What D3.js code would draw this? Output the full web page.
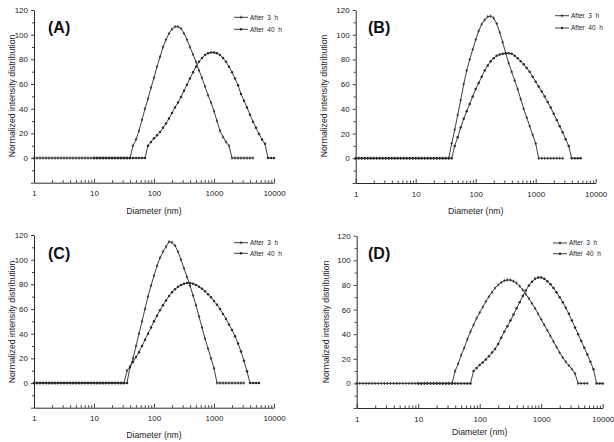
<!DOCTYPE html>
<html>
<head>
<meta charset="utf-8">
<script src="https://cdn.jsdelivr.net/npm/d3@7"></script>
<style>
  html, body { margin: 0; padding: 0; background: #fff; }
  svg { display: block; font-family: "Liberation Sans", Arial, sans-serif; }
</style>
</head>
<body>
<script>
// ---------- DATA ----------
const diameters = [1,1.122,1.259,1.413,1.585,1.778,1.995,2.239,2.512,2.818,
  3.162,3.548,3.981,4.467,5.012,5.623,6.310,7.079,7.943,8.913,
  10,11.22,12.59,14.13,15.85,17.78,19.95,22.39,25.12,28.18,
  31.62,35.48,39.81,44.67,50.12,56.23,63.10,70.79,79.43,89.13,
  100,112.2,125.9,141.3,158.5,177.8,199.5,223.9,251.2,281.8,
  316.2,354.8,398.1,446.7,501.2,562.3,631.0,707.9,794.3,891.3,
  1000,1122,1259,1413,1585,1778,1995,2239,2512,2818,
  3162,3548,3981,4467,5012,5623,6310,7079,7943,8913,10000];

const seriesNames = ["After  3  h", "After  40  h"];
const panelLabels = ["(A)", "(B)", "(C)", "(D)"];
const xTicks = [1, 10, 100, 1000, 10000];
const yTicks = [-20, 0, 20, 40, 60, 80, 100, 120];
const xTitle = "Diameter (nm)";
const yTitle = "Normalized intensity distribution";

// each series: first bin index + values per bin
const a3hStart = 0;
const a3h = [0,0,0,0,0,0,0,0,0,0, 0,0,0,0,0,0,0,0,0,0, 0,0,0,0,0,0,0,0,0,0, 0,0,0,
  10,15,22,31,40,48,57,65,74,82, 90,96,101,104.5,106.5,106.5,105,101,96,90,
  84,78,71,65,58,51,45,38,30,22, 17,13,10,
  0,0,0,0,0,0,0,0];
const a40hStart = 20;
const a40h = [0,0,0,0,0,0,0,0,0,0, 0,0,0,0,0,0,0,0,
  10,13,16,18.5,21,24.5,28,32,36.5,41, 45,49.5,54.5,59.5,64.5,69.5,74,78,81,83.5,
  85,85.5,85.5,85,83.5,81,78,74,69.5,64.5, 59,52,46.5,41,35,29.5,24.5,19.5,15,11.5,
  0,0,0];

const b3hStart = 0;
const b3h = [0,0,0,0,0,0,0,0,0,0, 0,0,0,0,0,0,0,0,0,0, 0,0,0,0,0,0,0,0,0,0, 0,0,
  12,23,35,47,60,71,80,88,96,103, 108.5,112,114.5,115,113.5,109,102,94,85,77,
  70,63,56,48,40,33,26,19,12,
  0,0,0,0,0,0,0,0,0];
const b40hStart = 0;
const b40h = [0,0,0,0,0,0,0,0,0,0, 0,0,0,0,0,0,0,0,0,0, 0,0,0,0,0,0,0,0,0,0, 0,0,0,
  10,17,25,32,38,44,50,56,61,66, 71,75,78.5,81,83,84,84.5,85,85,84.5,
  83,81,78.5,76,73,70,66,62,58,54, 50,45.5,41,36,31,26,21,15.5,10,
  0,0,0,0];

const c3hStart = 0;
const c3h = [0,0,0,0,0,0,0,0,0,0, 0,0,0,0,0,0,0,0,0,0, 0,0,0,0,0,0,0,0,0,0, 0,
  10,13,20,30,40,50,60,70,79,87, 95,101.5,106.5,110.5,114.5,114,111.5,106.5,100,93,
  86,79,71,63,54,45,36,28,20,12,
  0,0,0,0,0,0,0,0,0,0];
const c40hStart = 0;
const c40h = [0,0,0,0,0,0,0,0,0,0, 0,0,0,0,0,0,0,0,0,0, 0,0,0,0,0,0,0,0,0,0, 0,0,
  13,17,21,25,30,35,40,45,50,54.5, 59,63,67,70.5,73.5,76,78,79.5,80.5,81,
  81,80.5,79.5,78,76.5,74.5,72,69.5,66.5,63.5, 60,56,52,47.5,43,38,32,25.5,18,9.5,
  0,0,0,0];

const d3hStart = 0;
const d3h = [0,0,0,0,0,0,0,0,0,0, 0,0,0,0,0,0,0,0,0,0, 0,0,0,0,0,0,0,0,0,0, 0,0,
  10,16,23,29,36,42,47.5,53,57.5,62, 66.5,70.5,74,77.5,80,82,83.5,84,84,83,
  81.5,79,76,72.5,69,65,61,56.5,52,47.5, 43,38.5,34,29.5,25,21,17.5,14.5,11.5,8,
  0,0,0,0];
const d40hStart = 20;
const d40h = [0,0,0,0,0,0,0,0,0,0, 0,0,0,0,0,0,0,0,
  10,12.5,15,17,19.5,22,25,28,32,37, 42,46.5,51,56,61,66,71,75.5,79.5,82.5,
  85,86,86,85,83,80.5,77.5,74,70,66, 61.5,56.5,51,45.5,40,34.5,29,23.5,17.5,11.5,
  0,0,0];

// ---------- LAYOUT ----------
const panels = [
  {label: panelLabels[0], s: [[a3hStart, a3h], [a40hStart, a40h]],
   x0: 34, x1: 274, yT: 10, yB: 182.7, labX: 48, labY: 33, ytX: 12, ytY: 96, xtY: 214, legX: 234, legY: [17.3, 29.3]},
  {label: panelLabels[1], s: [[b3hStart, b3h], [b40hStart, b40h]],
   x0: 355.7, x1: 595.7, yT: 10, yB: 183, labX: 368, labY: 33, ytX: 324, ytY: 96, xtY: 214, legX: 555, legY: [15.7, 28]},
  {label: panelLabels[2], s: [[c3hStart, c3h], [c40hStart, c40h]],
   x0: 34, x1: 274, yT: 235, yB: 407.7, labX: 48, labY: 259, ytX: 12, ytY: 322, xtY: 438, legX: 234, legY: [242.7, 253.3]},
  {label: panelLabels[3], s: [[d3hStart, d3h], [d40hStart, d40h]],
   x0: 356.7, x1: 602.7, yT: 235.7, yB: 408, labX: 368, labY: 259, ytX: 325.5, ytY: 322, xtY: 435, legX: 553, legY: [243, 253.7]}
];

const INK = "#2a2a2a";
const svg = d3.select("body").append("svg").attr("width", 614).attr("height", 442);
svg.append("rect").attr("width", 614).attr("height", 442).attr("fill", "#fff");

const minorX = [];
[1, 10, 100, 1000].forEach(dec => { for (let m = 2; m <= 9; m++) minorX.push(dec * m); });
const minorY = [-10, 10, 30, 50, 70, 90, 110];

function drawMarker(g, kind, cx, cy) {
  if (kind === 0) {
    g.append("path").attr("d", `M${cx},${cy - 1.6}V${cy + 1.6}M${cx - 1.2},${cy}H${cx + 1.2}`)
      .attr("stroke", INK).attr("stroke-width", 0.8).attr("fill", "none");
  } else {
    g.append("circle").attr("cx", cx).attr("cy", cy).attr("r", 1.25).attr("fill", INK);
  }
}

panels.forEach(p => {
  const x = d3.scaleLog().domain([1, 10000]).range([p.x0, p.x1]);
  const y = d3.scaleLinear().domain([-20, 120]).range([p.yB, p.yT]);
  const g = svg.append("g");

  // x axis (ticks pointing up)
  const gx = g.append("g").attr("transform", `translate(0,${p.yB})`)
    .call(d3.axisBottom(x).tickValues(xTicks).tickFormat(d3.format("d")).tickSizeInner(-4).tickSizeOuter(0).tickPadding(8));
  g.append("g").attr("transform", `translate(0,${p.yB})`)
    .call(d3.axisBottom(x).tickValues(minorX).tickFormat("").tickSizeInner(-2.5).tickSizeOuter(0))
    .select(".domain").remove();

  // y axis
  const gy = g.append("g").attr("transform", `translate(${p.x0},0)`)
    .call(d3.axisLeft(y).tickValues(yTicks).tickFormat(d => d < 0 ? "" : d).tickSizeInner(3).tickSizeOuter(0).tickPadding(3));
  g.append("g").attr("transform", `translate(${p.x0},0)`)
    .call(d3.axisLeft(y).tickValues(minorY).tickFormat("").tickSizeInner(2).tickSizeOuter(0))
    .select(".domain").remove();

  g.selectAll(".domain").attr("stroke", INK).attr("stroke-width", 1);
  g.selectAll(".tick line").attr("stroke", INK).attr("stroke-width", 0.9);
  g.selectAll(".tick text").attr("fill", "#222").style("font-size", "8px");

  // titles
  g.append("text").attr("x", (p.x0 + p.x1) / 2).attr("y", p.xtY).attr("text-anchor", "middle")
    .style("font-size", "8.7px").attr("fill", "#222").text(xTitle);
  g.append("text").attr("transform", `translate(${p.ytX},${p.ytY}) rotate(-90)`)
    .attr("text-anchor", "middle").attr("dy", "0.35em")
    .style("font-size", "8.7px").attr("fill", "#222").text(yTitle);
  g.append("text").attr("x", p.labX).attr("y", p.labY)
    .style("font-size", "16px").style("font-weight", "bold").attr("fill", "#111").text(p.label);

  // series
  p.s.forEach(([start, vals], k) => {
    const pts = vals.map((v, i) => [diameters[start + i], v]);
    const line = d3.line().x(d => x(d[0])).y(d => y(d[1]));
    g.append("path").datum(pts).attr("d", line)
      .attr("fill", "none").attr("stroke", INK).attr("stroke-width", 0.9);
    const mg = g.append("g");
    pts.forEach(d => drawMarker(mg, k, x(d[0]), y(d[1])));
  });

  // legend
  seriesNames.forEach((name, k) => {
    const ly = p.legY[k];
    g.append("line").attr("x1", p.legX).attr("x2", p.legX + 14).attr("y1", ly).attr("y2", ly)
      .attr("stroke", INK).attr("stroke-width", 0.9);
    drawMarker(g, k, p.legX + 7, ly);
    g.append("text").attr("x", p.legX + 16).attr("y", ly).attr("dy", "0.35em")
      .style("font-size", "6.5px").style("white-space", "pre").attr("fill", "#222").text(name);
  });
});
</script>
</body>
</html>
